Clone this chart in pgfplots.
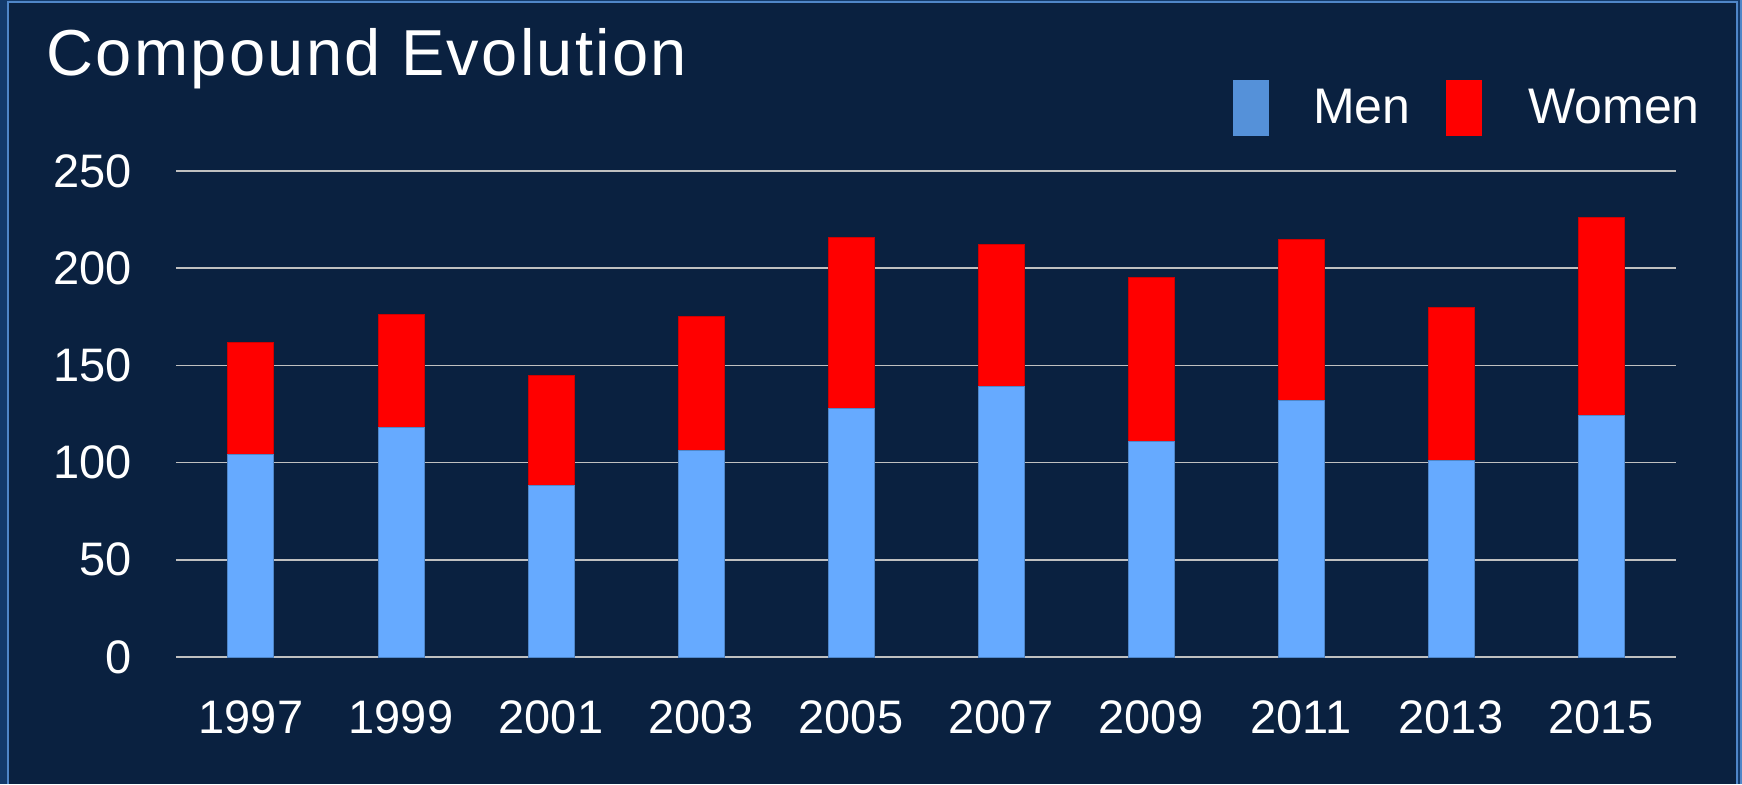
\documentclass[border=0pt]{standalone}
\usepackage{pgfplots}
\pgfplotsset{compat=1.18}
\usepackage{fontspec}
\setmainfont{Liberation Sans}
\newfontfamily\titlefont[LetterSpace=3.6]{Liberation Sans}
\definecolor{bg}{HTML}{0A2140}
\definecolor{frame}{HTML}{133A6B}
\definecolor{frameline}{HTML}{4F86C8}
\definecolor{menbar}{HTML}{66AAFF}
\definecolor{menedge}{HTML}{4F86C8}
\definecolor{menleg}{HTML}{5591D9}
\definecolor{womenedge}{HTML}{D00000}
\definecolor{gridc}{HTML}{C0C0C0}
\begin{document}
\begin{tikzpicture}
\useasboundingbox (0,0) rectangle (871pt,392pt);
\fill[frame] (0,0) rectangle (871pt,392pt);
\fill[bg] (4.5pt,0) rectangle (868pt,390.5pt);
\draw[frameline, line width=1pt] (4pt,0) -- (4pt,391pt) -- (868.5pt,391pt) -- (868.5pt,0);
\draw[frameline, line width=0.6pt] (870.5pt,0) -- (870.5pt,392pt);
\node[anchor=base west, text=white, inner sep=0pt, font=\titlefont\fontsize{32.5}{38}\selectfont] at (23pt,354pt) {Compound Evolution};
\begin{axis}[
  at={(88pt,63.5pt)}, anchor=south west,
  scale only axis, width=750pt, height=243pt,
  ybar stacked, bar width=23pt,
  xmin=-0.5, xmax=9.5, ymin=0, ymax=250,
  xtick={0,...,9},
  xticklabels={1997,1999,2001,2003,2005,2007,2009,2011,2013,2015},
  ytick={0,50,100,150,200,250},
  /pgf/number format/assume math mode=true,
  axis line style={draw=none},
  major tick length=0pt,
  ymajorgrids, grid style={color=gridc, line width=0.8pt},
  tick label style={text=white, font=\fontsize{23.5}{28}\selectfont, inner sep=0pt},
  yticklabel style={anchor=east, xshift=-22pt},
  xticklabel style={anchor=north, yshift=-21.5pt},
  legend columns=2,
  legend style={at={(0.7047,1.1296)}, anchor=west, draw=none, fill=none,
    text=white, font=\fontsize{25}{30}\selectfont, inner sep=0pt, outer sep=0pt,
    nodes={inner sep=0pt},
    /tikz/every even column/.append style={column sep=18pt}},
]
\addplot[fill=menbar, draw=menedge, line width=0.5pt,
  legend image code/.code={\fill[menleg, draw=none] (0pt,-14pt) rectangle (18pt,14pt); \path[draw=none, fill=none] (0pt,0pt) -- (40pt,0pt);}]
  coordinates {(0,104) (1,118) (2,88) (3,106) (4,128) (5,139) (6,111) (7,132) (8,101) (9,124)};
\addlegendentry{Men}
\addplot[fill=red, draw=womenedge, line width=0.5pt,
  legend image code/.code={\fill[red, draw=none] (0pt,-14pt) rectangle (18pt,14pt); \path[draw=none, fill=none] (0pt,0pt) -- (41pt,0pt);}]
  coordinates {(0,58) (1,58) (2,57) (3,69) (4,88) (5,73) (6,84) (7,83) (8,79) (9,102)};
\addlegendentry{Women}
\end{axis}
\end{tikzpicture}
\end{document}
